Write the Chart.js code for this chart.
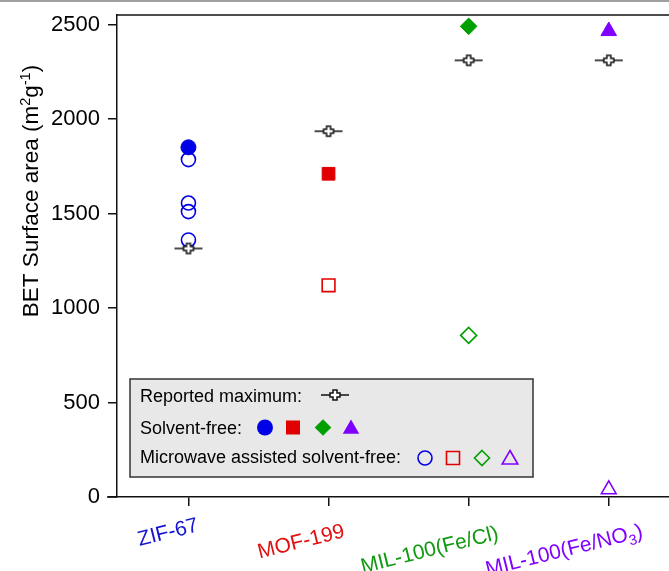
<!DOCTYPE html>
<html><head><meta charset="utf-8">
<script src="https://cdn.jsdelivr.net/npm/chart.js@4/dist/chart.umd.min.js"></script>
<style>html,body{margin:0;padding:0;background:#fff;overflow:hidden}</style>
</head><body>
<canvas id="c" width="669" height="571"></canvas>
<script>
// ---- data ----
const categories = ['ZIF-67', 'MOF-199', 'MIL-100(Fe/Cl)', 'MIL-100(Fe/NO3)'];
const categoryColors = ['#1414d2', '#e01010', '#109a10', '#8000ff'];
const reportedMaximum = [1315, 1935, 2310, 2310];
const solventFree = [1850, 1710, 2490, 2465];
const microwaveZIF67 = [1785, 1555, 1510, 1360];
const microwaveMOF199 = [1120];
const microwaveFeCl = [855];
const microwaveFeNO3 = [40];
const yTicks = [0, 500, 1000, 1500, 2000, 2500];
const legendRows = ['Reported maximum:', 'Solvent-free:', 'Microwave assisted solvent-free:'];
const yTitle = ['BET Surface area (m', '2', 'g', '-1', ')'];

const BLUE = '#0000e6', RED = '#e00000', GREEN = '#00a000', PURPLE = '#8000ff';
const FONT = '"Liberation Sans", Arial, Helvetica, sans-serif';

function makeCross() {
  const c = document.createElement('canvas'); c.width = 30; c.height = 14;
  const g = c.getContext('2d');
  g.strokeStyle = '#111'; g.lineWidth = 1.5;
  g.beginPath(); g.moveTo(1, 7); g.lineTo(29, 7); g.stroke();
  const cx = 15, cy = 7, a = 5, w = 2;
  g.beginPath();
  g.moveTo(cx - w, cy - a); g.lineTo(cx + w, cy - a); g.lineTo(cx + w, cy - w); g.lineTo(cx + a, cy - w);
  g.lineTo(cx + a, cy + w); g.lineTo(cx + w, cy + w); g.lineTo(cx + w, cy + a); g.lineTo(cx - w, cy + a);
  g.lineTo(cx - w, cy + w); g.lineTo(cx - a, cy + w); g.lineTo(cx - a, cy - w); g.lineTo(cx - w, cy - w);
  g.closePath(); g.fillStyle = '#fff'; g.fill(); g.stroke();
  return c;
}
const crossImg = makeCross();

const pts = (arr, xi) => arr.map(v => ({ x: xi, y: v }));

const datasets = [
  { label: 'Reported maximum', data: reportedMaximum.map((v, i) => ({ x: i + 1, y: v })),
    pointStyle: crossImg, pointRadius: 7, order: 0 },
  { label: 'Solvent-free', data: solventFree.map((v, i) => ({ x: i + 1, y: v })),
    pointStyle: ['circle', 'rect', 'rectRot', 'triangle'], pointRadius: [7.5, 9, 8.3, 9],
    pointBackgroundColor: [BLUE, RED, GREEN, PURPLE], pointBorderColor: [BLUE, RED, GREEN, PURPLE],
    pointBorderWidth: 1, order: 1 },
  { label: 'MW ZIF-67', data: pts(microwaveZIF67, 1), pointStyle: 'circle', pointRadius: 7,
    pointBackgroundColor: 'rgba(0,0,0,0)', pointBorderColor: BLUE, pointBorderWidth: 1.6, order: 2 },
  { label: 'MW MOF-199', data: pts(microwaveMOF199, 2), pointStyle: 'rect', pointRadius: 9,
    pointBackgroundColor: 'rgba(0,0,0,0)', pointBorderColor: RED, pointBorderWidth: 1.6, order: 2 },
  { label: 'MW MIL-100(Fe/Cl)', data: pts(microwaveFeCl, 3), pointStyle: 'rectRot', pointRadius: 8,
    pointBackgroundColor: 'rgba(0,0,0,0)', pointBorderColor: GREEN, pointBorderWidth: 1.6, order: 2 },
  { label: 'MW MIL-100(Fe/NO3)', data: pts(microwaveFeNO3, 4), pointStyle: 'triangle', pointRadius: 8.5,
    pointBackgroundColor: 'rgba(0,0,0,0)', pointBorderColor: PURPLE, pointBorderWidth: 1.6, order: 2 }
];

function drawShape(ctx, type, x, y, r, fill, stroke, lw) {
  ctx.beginPath();
  if (type === 'circle') ctx.arc(x, y, r, 0, Math.PI * 2);
  else if (type === 'rect') ctx.rect(x - r, y - r, 2 * r, 2 * r);
  else if (type === 'diamond') { ctx.moveTo(x, y - r); ctx.lineTo(x + r, y); ctx.lineTo(x, y + r); ctx.lineTo(x - r, y); ctx.closePath(); }
  else if (type === 'triangle') { ctx.moveTo(x, y - r); ctx.lineTo(x + r * 0.866, y + r / 2); ctx.lineTo(x - r * 0.866, y + r / 2); ctx.closePath(); }
  if (fill) { ctx.fillStyle = fill; ctx.fill(); }
  if (stroke) { ctx.strokeStyle = stroke; ctx.lineWidth = lw; ctx.stroke(); }
}

const decor = {
  id: 'decor',
  beforeDraw(chart) {
    const ctx = chart.ctx; ctx.save(); ctx.fillStyle = '#fff'; ctx.fillRect(0, 0, chart.width, chart.height); ctx.restore();
  },
  afterDraw(chart) {
    const ctx = chart.ctx, ca = chart.chartArea, xs = chart.scales.x;
    ctx.save();
    ctx.fillStyle = '#a0a0a0'; ctx.fillRect(0, 0, chart.width, 2);
    ctx.strokeStyle = '#111'; ctx.lineWidth = 1.5;
    ctx.beginPath(); ctx.moveTo(ca.left - 0.75, ca.top); ctx.lineTo(ca.right, ca.top); ctx.stroke();
    ctx.beginPath(); ctx.moveTo(ca.left - 10, ca.bottom); ctx.lineTo(ca.left, ca.bottom); ctx.stroke();

    // legend
    const lx = ca.left + 13, ly = 379, lw = 403, lh = 98;
    ctx.fillStyle = '#e8e8e8'; ctx.fillRect(lx, ly, lw, lh);
    ctx.strokeStyle = '#333'; ctx.lineWidth = 1.5; ctx.strokeRect(lx, ly, lw, lh);
    ctx.fillStyle = '#000'; ctx.font = '18px ' + FONT; ctx.textBaseline = 'alphabetic'; ctx.textAlign = 'left';
    ctx.fillText(legendRows[0], lx + 10, ly + 23);
    ctx.fillText(legendRows[1], lx + 10, ly + 55);
    ctx.fillText(legendRows[2], lx + 10, ly + 84);
    ctx.drawImage(crossImg, lx + 205 - 15, ly + 16 - 7);
    const r2 = ly + 48.5, r3 = ly + 79;
    drawShape(ctx, 'circle', lx + 135, r2, 8, BLUE);
    drawShape(ctx, 'rect', lx + 163, r2, 7, RED);
    drawShape(ctx, 'diamond', lx + 193, r2, 8.3, GREEN);
    drawShape(ctx, 'triangle', lx + 221, r2 + 1.5, 9.5, PURPLE);
    drawShape(ctx, 'circle', lx + 295, r3, 7, null, BLUE, 1.6);
    drawShape(ctx, 'rect', lx + 323, r3, 6.5, null, RED, 1.6);
    drawShape(ctx, 'diamond', lx + 352, r3, 7.5, null, GREEN, 1.6);
    drawShape(ctx, 'triangle', lx + 380, r3 + 1.5, 9, null, PURPLE, 1.6);

    // rotated category labels
    const offs = [[11, 34], [17, 40], [31, 42], [35, 40]];
    const ang = -14 * Math.PI / 180;
    categories.forEach((lab, i) => {
      const ax = xs.getPixelForValue(i + 1) + offs[i][0], ay = ca.bottom + offs[i][1];
      ctx.save(); ctx.translate(ax, ay); ctx.rotate(ang); ctx.fillStyle = categoryColors[i];
      let parts;
      if (lab.endsWith('NO3)')) parts = [[lab.slice(0, -2), 0, 21], ['3', 5, 14.5], [')', 0, 21]];
      else parts = [[lab, 0, 21]];
      let total = 0;
      parts.forEach(p => { ctx.font = p[2] + 'px ' + FONT; total += ctx.measureText(p[0]).width; });
      let x = -total;
      parts.forEach(p => { ctx.font = p[2] + 'px ' + FONT; ctx.fillText(p[0], x, p[1]); x += ctx.measureText(p[0]).width; });
      ctx.restore();
    });

    // y title with superscripts
    ctx.save(); ctx.translate(38, ca.top + 176); ctx.rotate(-Math.PI / 2); ctx.fillStyle = '#000';
    const tp = [[yTitle[0], 0, 22.5], [yTitle[1], -8.5, 14.5], [yTitle[2], 0, 22.5], [yTitle[3], -8.5, 14.5], [yTitle[4], 0, 22.5]];
    let tot = 0; tp.forEach(p => { ctx.font = p[2] + 'px ' + FONT; tot += ctx.measureText(p[0]).width; });
    let tx = -tot / 2;
    tp.forEach(p => { ctx.font = p[2] + 'px ' + FONT; ctx.fillText(p[0], tx, p[1]); tx += ctx.measureText(p[0]).width; });
    ctx.restore();
    ctx.restore();
  }
};

new Chart(document.getElementById('c'), {
  type: 'scatter',
  data: { datasets },
  options: {
    responsive: false, animation: false, devicePixelRatio: 1,
    events: [],
    layout: { autoPadding: false, padding: { top: 15, right: 0, bottom: 0, left: 0 } },
    plugins: { legend: { display: false }, tooltip: { enabled: false } },
    elements: { point: { hoverRadius: 0 } },
    scales: {
      x: {
        type: 'linear', min: 0.49, max: 4.43,
        afterBuildTicks: s => { s.ticks = categories.map((c, i) => ({ value: i + 1 })); },
        afterFit: s => { s.height = 74; s.paddingLeft = 0; s.paddingRight = 0; },
        ticks: { callback: () => '', display: true },
        grid: { drawOnChartArea: false, drawTicks: true, tickLength: 9, color: '#111', lineWidth: 1.5 },
        border: { display: true, color: '#111', width: 1.5 }
      },
      y: {
        min: 0, max: 2550,
        afterBuildTicks: s => { s.ticks = yTicks.map(v => ({ value: v })); },
        afterFit: s => { s.width = 117; s.paddingTop = 0; s.paddingBottom = 0; },
        ticks: { color: '#000', font: { size: 22, family: FONT }, padding: 8, callback: v => String(v) },
        grid: { drawOnChartArea: false, drawTicks: true, tickLength: 9, color: '#111', lineWidth: 1.5 },
        border: { display: true, color: '#111', width: 1.5 }
      }
    }
  },
  plugins: [decor]
});
</script>
</body></html>
